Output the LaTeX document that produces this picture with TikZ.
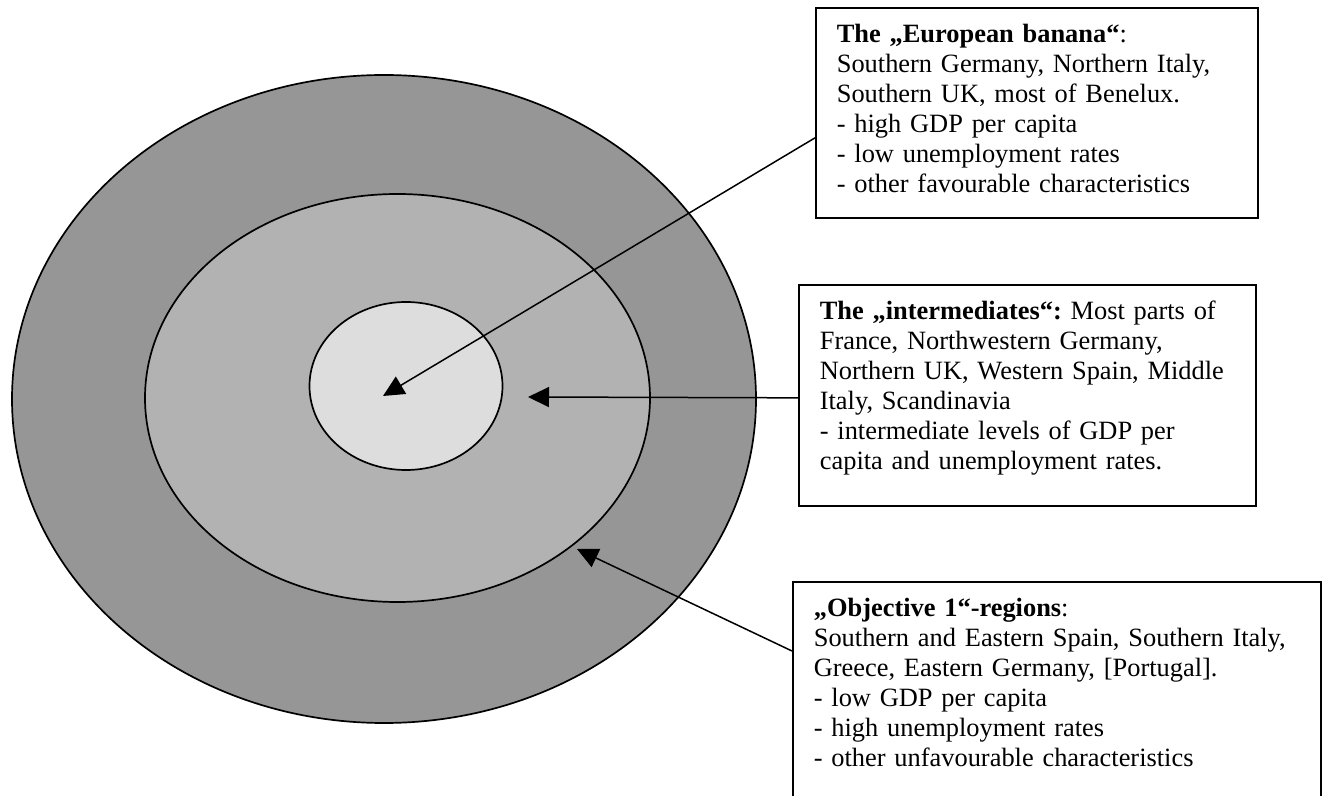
\documentclass[tikz,border=0pt]{standalone}
\usepackage{fontspec}
\setmainfont{Liberation Serif}
\usetikzlibrary{shapes.geometric,arrows.meta,positioning,calc}
\frenchspacing

\definecolor{outergray}{RGB}{150,150,150}
\definecolor{middlegray}{RGB}{178,178,178}
\definecolor{innergray}{RGB}{221,221,221}

\begin{document}
\begin{tikzpicture}[
    x=0.5pt, y=-0.5pt,
    region/.style={ellipse, draw, line width=0.85pt, inner sep=0pt},
    callout/.style={rectangle, draw, line width=0.85pt, anchor=north west, align=left, inner xsep=10.5pt, inner ysep=8.5pt, text height=9pt, font=\fontsize{13.2}{15}\selectfont},
    arrow/.style={line width=0.75pt, -{Triangle[length=10.5pt,width=10pt]}}
]
\clip (0,0) rectangle (1324,796);

% Regions
\node[region, fill=outergray, minimum width=372pt, minimum height=324pt] (outer) at (384,399) {};
\node[region, fill=middlegray, minimum width=252.5pt, minimum height=204pt] (middle) at (397.5,398) {};
\node[region, fill=innergray, minimum width=96.5pt, minimum height=84pt] (inner) at (406,386) {};

\coordinate (coretip) at (383,396);
\coordinate (midtip) at (528,397);
\coordinate (edgetip) at (577,549);

% Callouts
\node[callout, text width=200pt, text depth=79pt] (banana) at (815,7)
  {\textbf{The „European banana“}:\\
   Southern Germany, Northern Italy,\\
   Southern UK, most of Benelux.\\
   - high GDP per capita\\
   - low unemployment rates\\
   - other favourable characteristics};
\node[callout, text width=207.5pt, text depth=84.5pt] (inter) at (798,284)
  {\textbf{The „intermediates“:} Most parts of\\
   France, Northwestern Germany,\\
   Northern UK, Western Spain, Middle\\
   Italy, Scandinavia\\
   - intermediate levels of GDP per\\
   capita and unemployment rates.};
\node[callout, text width=243pt, text depth=94pt] (objective) at (792,581)
  {\textbf{„Objective 1“-regions}:\\
   Southern and Eastern Spain, Southern Italy,\\
   Greece, Eastern Germany, [Portugal].\\
   - low GDP per capita\\
   - high unemployment rates\\
   - other unfavourable characteristics};

% Arrows
\draw[arrow] ($(banana.west)+(0,25)$) -- (coretip);
\draw[arrow] ($(inter.west)+(0,2.5)$) -- (midtip);
\draw[arrow] ($(objective.north west)+(0,70)$) -- (edgetip);
\end{tikzpicture}
\end{document}
